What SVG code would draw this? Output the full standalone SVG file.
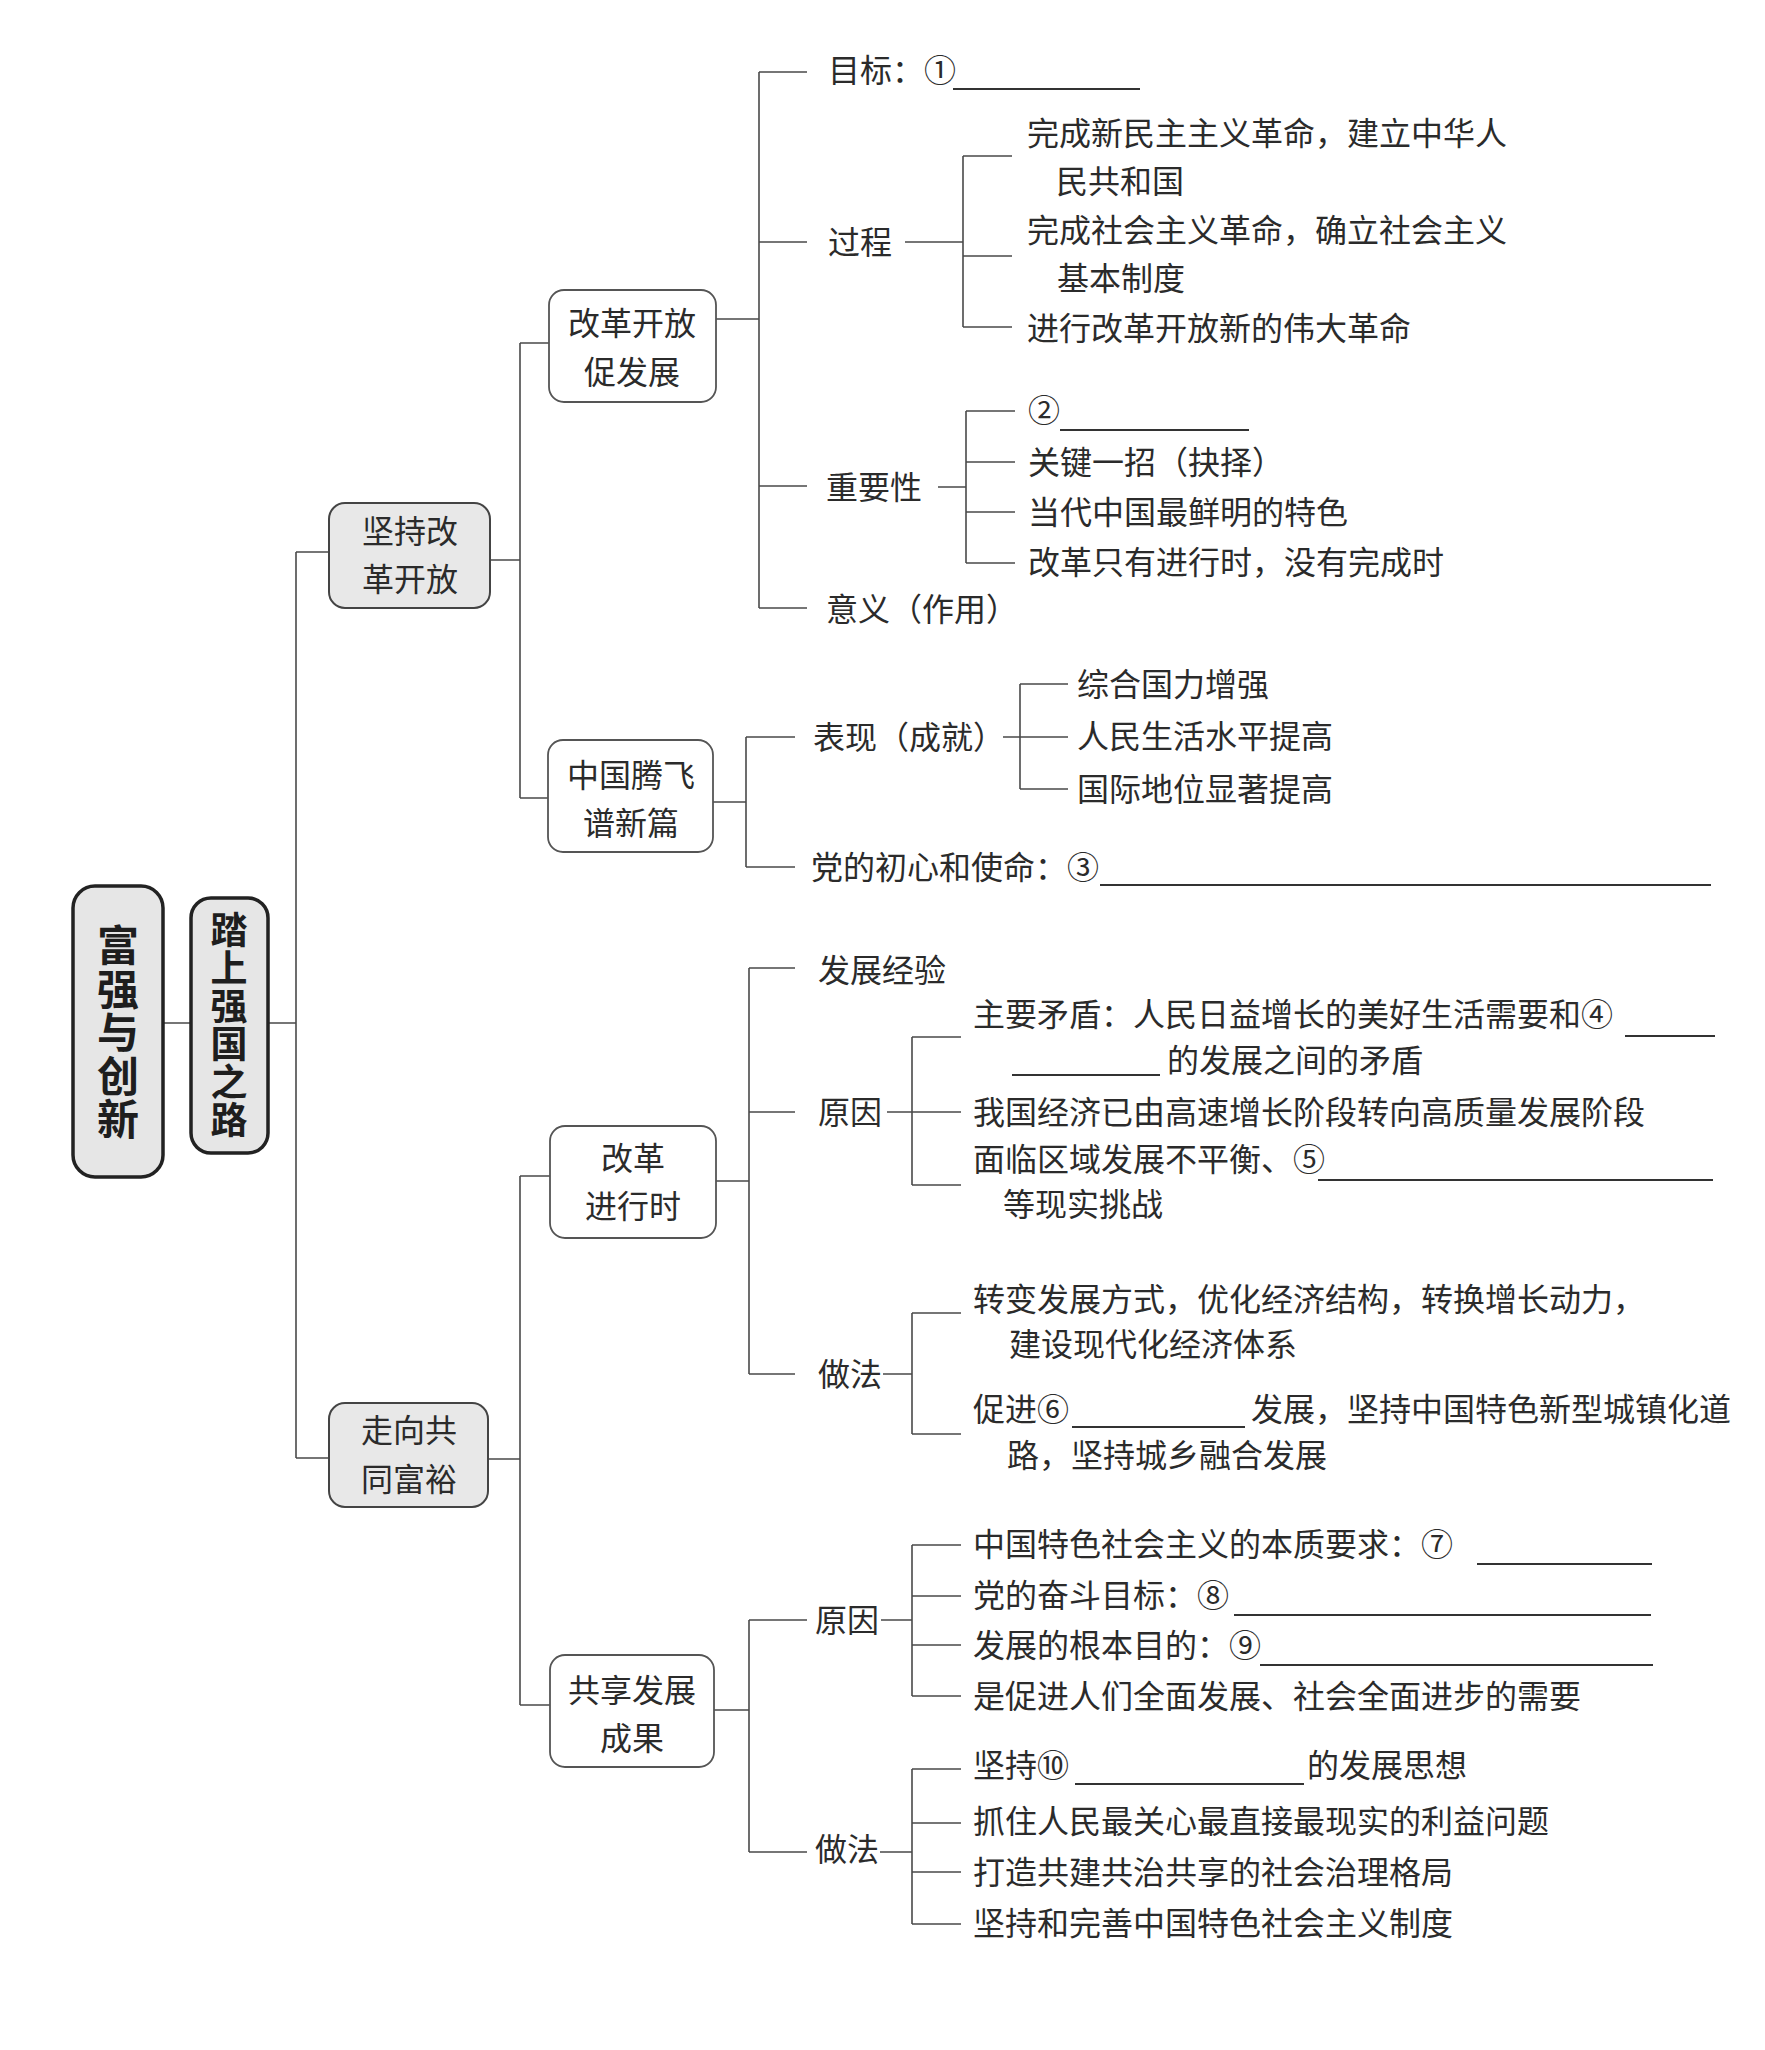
<svg xmlns="http://www.w3.org/2000/svg" width="1765" height="2050" viewBox="0 0 1765 2050">
<style>
.t{font-family:"Noto Sans CJK SC","Noto Sans",sans-serif;font-size:32px;fill:#2b2b2b}
.c{text-anchor:middle}
.b{font-family:"Noto Sans CJK SC","Noto Sans",sans-serif;font-weight:700;fill:#1e1e1e;text-anchor:middle;writing-mode:vertical-rl;text-orientation:upright}
.b1{font-size:42px;letter-spacing:1.5px}
.b2{font-size:37px;letter-spacing:1px}
.ln{stroke:#4a4a4a;stroke-width:1.6;fill:none}
.ul{stroke:#333;stroke-width:1.8;fill:none}
.root{fill:#e6e6e6;stroke:#222;stroke-width:3.5}
.l2{fill:#e8e8e8;stroke:#444;stroke-width:2}
.l3{fill:#fff;stroke:#555;stroke-width:1.8}
</style>
<rect width="1765" height="2050" fill="#fff"/>
<g id="connectors" class="ln">
<path d="M163 1023H191M268 1023H296M296 552V1458M296 552H329M296 1458H329"/>
<path d="M490 560H520M520 343V798M520 343H549M520 798H548"/>
<path d="M716 319H759M759 72V608M759 72H807M759 242H807M759 486H807M759 608H807"/>
<path d="M905 242H963M963 156V327M963 156H1012M963 256H1012M963 327H1012"/>
<path d="M938 487H966M966 411V563M966 411H1015M966 462H1015M966 512H1015M966 563H1015"/>
<path d="M713 802H746M746 737V867M746 737H795M746 867H795"/>
<path d="M1003 737H1068M1020 684V789M1020 684H1068M1020 789H1068"/>
<path d="M488 1459H520M520 1176V1705M520 1176H550M520 1705H550"/>
<path d="M716 1181H749M749 968V1374M749 968H795M749 1112H795M749 1374H795"/>
<path d="M887 1112H961M912 1037V1185M912 1037H961M912 1185H961"/>
<path d="M883 1374H912M912 1313V1434M912 1313H961M912 1434H961"/>
<path d="M714 1710H749M749 1620V1852M749 1620H807M749 1852H807"/>
<path d="M881 1620H912M912 1545V1696M912 1545H961M912 1596H961M912 1645H961M912 1696H961"/>
<path d="M880 1852H912M912 1769V1924M912 1769H961M912 1823H961M912 1872H961M912 1924H961"/>
</g>
<g id="blanks" class="ul">
<path d="M953 89H1140M1060 430H1249M1100 885H1711M1625 1036H1715M1012 1075H1160M1318 1180H1713M1072 1427H1245M1477 1564H1652M1234 1615H1651M1260 1665H1653M1075 1784H1304"/>
</g>
<g id="n-root">
<rect class="root" x="73" y="886" width="90" height="291" rx="22"/>
<text class="b b1" x="118" y="1033">富强与创新</text>
</g>
<g id="n-road">
<rect class="root" x="191" y="898" width="77" height="255" rx="20"/>
<text class="b b2" x="229" y="1025">踏上强国之路</text>
</g>
<g id="n-jianchi">
<rect class="l2" x="329" y="503" width="161" height="105" rx="16"/>
<text class="t c"><tspan x="410" y="543">坚持改</tspan><tspan x="410" y="591">革开放</tspan></text>
</g>
<g id="n-gaige-cu">
<rect class="l3" x="549" y="290" width="167" height="112" rx="15"/>
<text class="t c"><tspan x="632" y="335">改革开放</tspan><tspan x="632" y="384">促发展</tspan></text>
</g>
<g id="n-mubiao"><text class="t" x="828" y="82">目标：①</text></g>
<g id="n-guocheng"><text class="t" x="828" y="254">过程</text></g>
<g id="n-gc1"><text class="t"><tspan x="1027" y="145">完成新民主主义革命，建立中华人</tspan><tspan x="1056" y="193">民共和国</tspan></text></g>
<g id="n-gc2"><text class="t"><tspan x="1027" y="242">完成社会主义革命，确立社会主义</tspan><tspan x="1057" y="290">基本制度</tspan></text></g>
<g id="n-gc3"><text class="t" x="1027" y="340">进行改革开放新的伟大革命</text></g>
<g id="n-zhongyao"><text class="t" x="826" y="499">重要性</text></g>
<g id="n-zy1"><text class="t" x="1028" y="422">②</text></g>
<g id="n-zy2"><text class="t" x="1028" y="474">关键一招（抉择）</text></g>
<g id="n-zy3"><text class="t" x="1028" y="524">当代中国最鲜明的特色</text></g>
<g id="n-zy4"><text class="t" x="1028" y="574">改革只有进行时，没有完成时</text></g>
<g id="n-yiyi"><text class="t" x="826" y="621">意义（作用）</text></g>
<g id="n-tengfei">
<rect class="l3" x="548" y="740" width="165" height="112" rx="15"/>
<text class="t c"><tspan x="631" y="787">中国腾飞</tspan><tspan x="631" y="835">谱新篇</tspan></text>
</g>
<g id="n-biaoxian"><text class="t" x="813" y="749">表现（成就）</text></g>
<g id="n-bx1"><text class="t" x="1077" y="696">综合国力增强</text></g>
<g id="n-bx2"><text class="t" x="1077" y="748">人民生活水平提高</text></g>
<g id="n-bx3"><text class="t" x="1077" y="801">国际地位显著提高</text></g>
<g id="n-chuxin"><text class="t" x="811" y="879">党的初心和使命：③</text></g>
<g id="n-gongtong">
<rect class="l2" x="329" y="1403" width="159" height="104" rx="16"/>
<text class="t c"><tspan x="409" y="1442">走向共</tspan><tspan x="409" y="1491">同富裕</tspan></text>
</g>
<g id="n-jinxing">
<rect class="l3" x="550" y="1126" width="166" height="112" rx="15"/>
<text class="t c"><tspan x="633" y="1170">改革</tspan><tspan x="633" y="1218">进行时</tspan></text>
</g>
<g id="n-jingyan"><text class="t" x="818" y="982">发展经验</text></g>
<g id="n-yuanyin1"><text class="t" x="818" y="1124">原因</text></g>
<g id="n-yy1"><text class="t"><tspan x="973" y="1026">主要矛盾：人民日益增长的美好生活需要和④</tspan><tspan x="1167" y="1072">的发展之间的矛盾</tspan></text></g>
<g id="n-yy2"><text class="t" x="973" y="1124">我国经济已由高速增长阶段转向高质量发展阶段</text></g>
<g id="n-yy3"><text class="t"><tspan x="973" y="1171">面临区域发展不平衡、⑤</tspan><tspan x="1003" y="1216">等现实挑战</tspan></text></g>
<g id="n-zuofa1"><text class="t" x="818" y="1386">做法</text></g>
<g id="n-zf1"><text class="t"><tspan x="973" y="1311">转变发展方式，优化经济结构，转换增长动力，</tspan><tspan x="1009" y="1356">建设现代化经济体系</tspan></text></g>
<g id="n-zf2"><text class="t"><tspan x="973" y="1421">促进⑥</tspan><tspan x="1251" y="1421">发展，坚持中国特色新型城镇化道</tspan><tspan x="1007" y="1467">路，坚持城乡融合发展</tspan></text></g>
<g id="n-gongxiang">
<rect class="l3" x="550" y="1655" width="164" height="112" rx="15"/>
<text class="t c"><tspan x="632" y="1702">共享发展</tspan><tspan x="632" y="1750">成果</tspan></text>
</g>
<g id="n-yuanyin2"><text class="t" x="815" y="1632">原因</text></g>
<g id="n-gy1"><text class="t" x="973" y="1556">中国特色社会主义的本质要求：⑦</text></g>
<g id="n-gy2"><text class="t" x="973" y="1607">党的奋斗目标：⑧</text></g>
<g id="n-gy3"><text class="t" x="973" y="1657">发展的根本目的：⑨</text></g>
<g id="n-gy4"><text class="t" x="973" y="1708">是促进人们全面发展、社会全面进步的需要</text></g>
<g id="n-zuofa2"><text class="t" x="815" y="1861">做法</text></g>
<g id="n-gz1"><text class="t"><tspan x="973" y="1777">坚持⑩</tspan><tspan x="1307" y="1777">的发展思想</tspan></text></g>
<g id="n-gz2"><text class="t" x="973" y="1833">抓住人民最关心最直接最现实的利益问题</text></g>
<g id="n-gz3"><text class="t" x="973" y="1884">打造共建共治共享的社会治理格局</text></g>
<g id="n-gz4"><text class="t" x="973" y="1935">坚持和完善中国特色社会主义制度</text></g>
</svg>
